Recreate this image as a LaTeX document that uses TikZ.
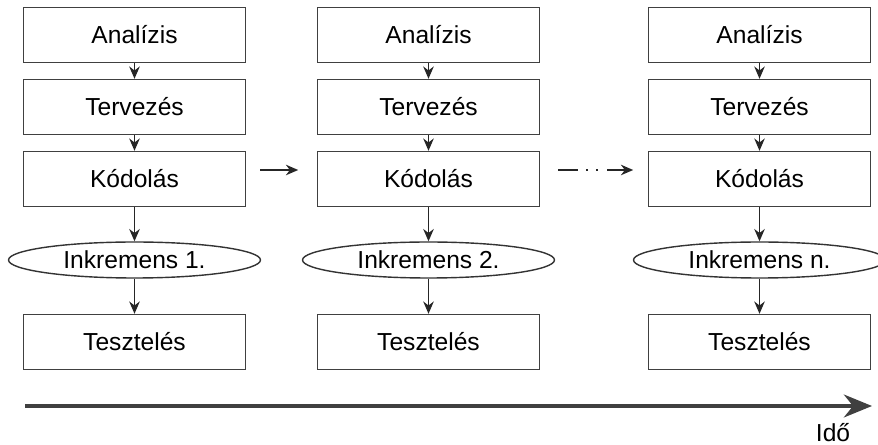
\documentclass[tikz,border=0pt]{standalone}
\usepackage{fontspec}
\setmainfont{Liberation Sans}
\usetikzlibrary{arrows.meta,shapes.geometric}

\tikzset{
  stepbox/.style={draw=black!75, line width=0.8pt, minimum width=4.44cm, minimum height=1.1cm, inner sep=0pt, font=\fontsize{14}{16}\selectfont},
  incr/.style={draw=black!80, ellipse, line width=0.8pt, minimum width=5.04cm, minimum height=0.72cm, inner sep=0pt, font=\fontsize{14}{16}\selectfont},
  flow/.style={-{Stealth[length=7pt,width=6pt]}, line width=0.8pt, black!85}
}

\begin{document}
\begin{tikzpicture}[x=0.02cm,y=-0.02cm]
			\useasboundingbox (0,0) rectangle (878,445);
			\foreach \c/\x/\lab in {1/134.5/1., 2/428.5/2., 3/759.5/n.} {
				\node	(a\c) at (\x,35) [stepbox] {Analízis};
				\node	(t\c) at (\x,107) [stepbox] {Tervezés};
				\node	(k\c) at (\x,179) [stepbox] {Kódolás};
				\node	(i\c) at (\x,260) [incr] {Inkremens \lab};
				\node	(s\c) at (\x,342) [stepbox] {Tesztelés};
				\draw 
				(a\c) edge[flow] (t\c) 
				(t\c) edge[flow] (k\c)
				(k\c) edge[flow] (i\c)
				(i\c) edge[flow] (s\c)
				;
			}
			\draw[flow] (k1.east) ++(14,-9) coordinate (p1) -- ++(38,0) coordinate (q1);
			\draw[flow, dash pattern=on 11pt off 5pt on 1.2pt off 4.5pt on 1.2pt off 5pt on 20pt] (k2.east) ++(18,-9) coordinate (p2) -- ++(75,0) coordinate (q2);
			\coordinate (t0) at (25,406);
			\coordinate (tn) at (872,406);
			\draw[-{Stealth[length=16pt,width=13pt]}, line width=2.2pt, black!75] (t0) -- (tn);
			\node (ido) at (833,433) [font=\fontsize{14}{16}\selectfont] {Idő};
		\end{tikzpicture}
\end{document}
